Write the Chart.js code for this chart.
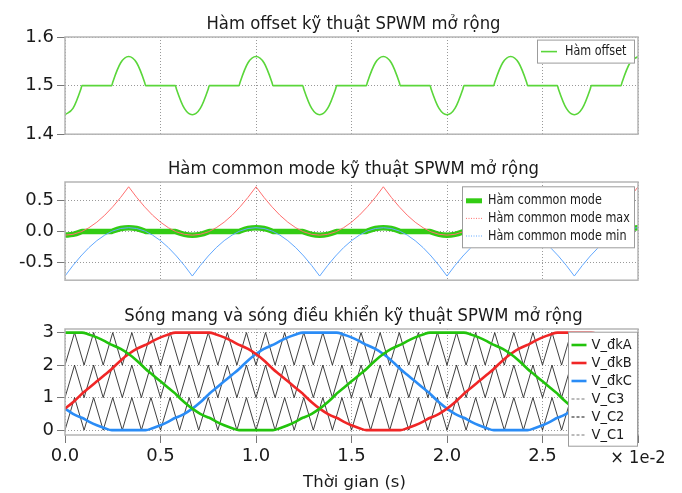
<!DOCTYPE html>
<html>
<head>
<meta charset="utf-8">
<script src="https://cdn.jsdelivr.net/npm/chart.js@4.4.0/dist/chart.umd.min.js"></script>
<style>
  body { margin: 0; background: #fff; }
  #wrap { position: relative; width: 682px; height: 493px; overflow: hidden; }
  canvas { position: absolute; left: 0; }
</style>
</head>
<body>
<div id="wrap">
  <canvas id="offsetChart" width="682" height="148" style="top:0px"></canvas>
  <canvas id="cmChart" width="682" height="146" style="top:148px"></canvas>
  <canvas id="pwmChart" width="682" height="199" style="top:294px"></canvas>
</div>
<script>
// time axis in units of 1e-2 s (extra points where the clamping switches)
var times = [
  0, 0.0417, 0.0833, 0.0886, 0.125, 0.1667, 0.2083, 0.2448, 0.25, 0.2917,
  0.3333, 0.375, 0.4167, 0.4219, 0.4583, 0.5, 0.5417, 0.5781, 0.5833, 0.625,
  0.6667, 0.7083, 0.75, 0.7553, 0.7917, 0.8333, 0.875, 0.9115, 0.9167, 0.9583,
  1.0, 1.0417, 1.0833, 1.0886, 1.125, 1.1667, 1.2083, 1.2448, 1.25, 1.2917,
  1.3333, 1.375, 1.4167, 1.4219, 1.4583, 1.5, 1.5417, 1.5781, 1.5833, 1.625,
  1.6667, 1.7083, 1.75, 1.7553, 1.7917, 1.8333, 1.875, 1.9115, 1.9167, 1.9583,
  2.0, 2.0417, 2.0833, 2.0886, 2.125, 2.1667, 2.2083, 2.2448, 2.25, 2.2917,
  2.3333, 2.375, 2.4167, 2.4219, 2.4583, 2.5, 2.5417, 2.5781, 2.5833, 2.625,
  2.6667, 2.7083, 2.75, 2.7553, 2.7917, 2.8333, 2.875, 2.9115, 2.9167, 2.9583,
  3.0
];

var offsetValues = [
  1.440, 1.453, 1.493, 1.5, 1.5, 1.5, 1.5, 1.5, 1.507, 1.547,
  1.560, 1.547, 1.507, 1.5, 1.5, 1.5, 1.5, 1.5, 1.493, 1.453,
  1.440, 1.453, 1.493, 1.5, 1.5, 1.5, 1.5, 1.5, 1.507, 1.547,
  1.560, 1.547, 1.507, 1.5, 1.5, 1.5, 1.5, 1.5, 1.493, 1.453,
  1.440, 1.453, 1.493, 1.5, 1.5, 1.5, 1.5, 1.5, 1.507, 1.547,
  1.560, 1.547, 1.507, 1.5, 1.5, 1.5, 1.5, 1.5, 1.493, 1.453,
  1.440, 1.453, 1.493, 1.5, 1.5, 1.5, 1.5, 1.5, 1.507, 1.547,
  1.560, 1.547, 1.507, 1.5, 1.5, 1.5, 1.5, 1.5, 1.493, 1.453,
  1.440, 1.453, 1.493, 1.5, 1.5, 1.5, 1.5, 1.5, 1.507, 1.547,
  1.560
];

var cmValues = [
  -0.060, -0.047, -0.007, 0, 0, 0, 0, 0, 0.007, 0.047,
  0.060, 0.047, 0.007, 0, 0, 0, 0, 0, -0.007, -0.047,
  -0.060, -0.047, -0.007, 0, 0, 0, 0, 0, 0.007, 0.047,
  0.060, 0.047, 0.007, 0, 0, 0, 0, 0, -0.007, -0.047,
  -0.060, -0.047, -0.007, 0, 0, 0, 0, 0, 0.007, 0.047,
  0.060, 0.047, 0.007, 0, 0, 0, 0, 0, -0.007, -0.047,
  -0.060, -0.047, -0.007, 0, 0, 0, 0, 0, 0.007, 0.047,
  0.060, 0.047, 0.007, 0, 0, 0, 0, 0, -0.007, -0.047,
  -0.060, -0.047, -0.007, 0, 0, 0, 0, 0, 0.007, 0.047,
  0.060
];

var cmMaxValues = [
  -0.060, -0.047, -0.007, 0, 0.059, 0.149, 0.262, 0.380, 0.397, 0.550,
  0.720, 0.550, 0.397, 0.380, 0.262, 0.149, 0.059, 0, -0.007, -0.047,
  -0.060, -0.047, -0.007, 0, 0.059, 0.149, 0.262, 0.380, 0.397, 0.550,
  0.720, 0.550, 0.397, 0.380, 0.262, 0.149, 0.059, 0, -0.007, -0.047,
  -0.060, -0.047, -0.007, 0, 0.059, 0.149, 0.262, 0.380, 0.397, 0.550,
  0.720, 0.550, 0.397, 0.380, 0.262, 0.149, 0.059, 0, -0.007, -0.047,
  -0.060, -0.047, -0.007, 0, 0.059, 0.149, 0.262, 0.380, 0.397, 0.550,
  0.720, 0.550, 0.397, 0.380, 0.262, 0.149, 0.059, 0, -0.007, -0.047,
  -0.060, -0.047, -0.007, 0, 0.059, 0.149, 0.262, 0.380, 0.397, 0.550,
  0.720
];

var cmMinValues = [
  -0.720, -0.550, -0.397, -0.380, -0.262, -0.149, -0.059, 0, 0.007, 0.047,
  0.060, 0.047, 0.007, 0, -0.059, -0.149, -0.262, -0.380, -0.397, -0.550,
  -0.720, -0.550, -0.397, -0.380, -0.262, -0.149, -0.059, 0, 0.007, 0.047,
  0.060, 0.047, 0.007, 0, -0.059, -0.149, -0.262, -0.380, -0.397, -0.550,
  -0.720, -0.550, -0.397, -0.380, -0.262, -0.149, -0.059, 0, 0.007, 0.047,
  0.060, 0.047, 0.007, 0, -0.059, -0.149, -0.262, -0.380, -0.397, -0.550,
  -0.720, -0.550, -0.397, -0.380, -0.262, -0.149, -0.059, 0, 0.007, 0.047,
  0.060, 0.047, 0.007, 0, -0.059, -0.149, -0.262, -0.380, -0.397, -0.550,
  -0.720, -0.550, -0.397, -0.380, -0.262, -0.149, -0.059, 0, 0.007, 0.047,
  0.060
];

// control signals, phases A, B, C
var vA = [
  3, 3, 3, 3, 2.941, 2.851, 2.738, 2.621, 2.61, 2.497,
  2.34, 2.144, 1.911, 1.879, 1.704, 1.5, 1.296, 1.121, 1.089, 0.856,
  0.66, 0.503, 0.39, 0.379, 0.262, 0.149, 0.059, 0, 0, 0,
  0, 0, 0, 0, 0.059, 0.149, 0.262, 0.379, 0.39, 0.503,
  0.66, 0.856, 1.089, 1.121, 1.296, 1.5, 1.704, 1.879, 1.911, 2.144,
  2.34, 2.497, 2.61, 2.621, 2.738, 2.851, 2.941, 3, 3, 3,
  3, 3, 3, 3, 2.941, 2.851, 2.738, 2.621, 2.61, 2.497,
  2.34, 2.144, 1.911, 1.879, 1.704, 1.5, 1.296, 1.121, 1.089, 0.856,
  0.66, 0.503, 0.39, 0.379, 0.262, 0.149, 0.059, 0, 0, 0,
  0
];
var vB = [
  0.66, 0.856, 1.089, 1.121, 1.296, 1.5, 1.704, 1.879, 1.911, 2.144,
  2.34, 2.497, 2.61, 2.621, 2.738, 2.851, 2.941, 3, 3, 3,
  3, 3, 3, 3, 2.941, 2.851, 2.738, 2.621, 2.61, 2.497,
  2.34, 2.144, 1.911, 1.879, 1.704, 1.5, 1.296, 1.121, 1.089, 0.856,
  0.66, 0.503, 0.39, 0.379, 0.262, 0.149, 0.059, 0, 0, 0,
  0, 0, 0, 0, 0.059, 0.149, 0.262, 0.379, 0.39, 0.503,
  0.66, 0.856, 1.089, 1.121, 1.296, 1.5, 1.704, 1.879, 1.911, 2.144,
  2.34, 2.497, 2.61, 2.621, 2.738, 2.851, 2.941, 3, 3, 3,
  3, 3, 3, 3, 2.941, 2.851, 2.738, 2.621, 2.61, 2.497,
  2.34
];
var vC = [
  0.66, 0.503, 0.39, 0.379, 0.262, 0.149, 0.059, 0, 0, 0,
  0, 0, 0, 0, 0.059, 0.149, 0.262, 0.379, 0.39, 0.503,
  0.66, 0.856, 1.089, 1.121, 1.296, 1.5, 1.704, 1.879, 1.911, 2.144,
  2.34, 2.497, 2.61, 2.621, 2.738, 2.851, 2.941, 3, 3, 3,
  3, 3, 3, 3, 2.941, 2.851, 2.738, 2.621, 2.61, 2.497,
  2.34, 2.144, 1.911, 1.879, 1.704, 1.5, 1.296, 1.121, 1.089, 0.856,
  0.66, 0.503, 0.39, 0.379, 0.262, 0.149, 0.059, 0, 0, 0,
  0, 0, 0, 0, 0.059, 0.149, 0.262, 0.379, 0.39, 0.503,
  0.66, 0.856, 1.089, 1.121, 1.296, 1.5, 1.704, 1.879, 1.911, 2.144,
  2.34
];

// triangular carriers, vertices every 0.05e-2 s
var carrierTimes = [
  0, 0.05, 0.1, 0.15, 0.2, 0.25, 0.3, 0.35, 0.4, 0.45, 0.5, 0.55, 0.6, 0.65, 0.7, 0.75, 0.8, 0.85, 0.9, 0.95,
  1.0, 1.05, 1.1, 1.15, 1.2, 1.25, 1.3, 1.35, 1.4, 1.45, 1.5, 1.55, 1.6, 1.65, 1.7, 1.75, 1.8, 1.85, 1.9, 1.95,
  2.0, 2.05, 2.1, 2.15, 2.2, 2.25, 2.3, 2.35, 2.4, 2.45, 2.5, 2.55, 2.6, 2.65, 2.7, 2.75, 2.8, 2.85, 2.9, 2.95,
  3.0
];
var carrier1 = [
  0, 1, 0, 1, 0, 1, 0, 1, 0, 1, 0, 1, 0, 1, 0, 1, 0, 1, 0, 1,
  0, 1, 0, 1, 0, 1, 0, 1, 0, 1, 0, 1, 0, 1, 0, 1, 0, 1, 0, 1,
  0, 1, 0, 1, 0, 1, 0, 1, 0, 1, 0, 1, 0, 1, 0, 1, 0, 1, 0, 1,
  0
];
var carrier2 = [
  1, 2, 1, 2, 1, 2, 1, 2, 1, 2, 1, 2, 1, 2, 1, 2, 1, 2, 1, 2,
  1, 2, 1, 2, 1, 2, 1, 2, 1, 2, 1, 2, 1, 2, 1, 2, 1, 2, 1, 2,
  1, 2, 1, 2, 1, 2, 1, 2, 1, 2, 1, 2, 1, 2, 1, 2, 1, 2, 1, 2,
  1
];
var carrier3 = [
  2, 3, 2, 3, 2, 3, 2, 3, 2, 3, 2, 3, 2, 3, 2, 3, 2, 3, 2, 3,
  2, 3, 2, 3, 2, 3, 2, 3, 2, 3, 2, 3, 2, 3, 2, 3, 2, 3, 2, 3,
  2, 3, 2, 3, 2, 3, 2, 3, 2, 3, 2, 3, 2, 3, 2, 3, 2, 3, 2, 3,
  2
];

var xTicks = [0, 0.5, 1.0, 1.5, 2.0, 2.5, 3.0];

var FONT = '"DejaVu Sans", sans-serif';
Chart.defaults.font.family = FONT;
Chart.defaults.color = '#1a1a1a';

function series(xs, ys) {
  return xs.map((x, i) => ({ x: x, y: ys[i] }));
}

function drawText(ctx, text, x, y, size, squeeze, align, base) {
  ctx.save();
  ctx.translate(x, y);
  ctx.scale(squeeze, 1);
  ctx.font = size + 'px ' + FONT;
  ctx.fillStyle = '#1a1a1a';
  ctx.textAlign = align;
  ctx.textBaseline = base;
  ctx.fillText(text, 0, 0);
  ctx.restore();
}

// frame, boxed legend inside the plot, title and axis captions
var panel = {
  id: 'panel',
  afterDatasetsDraw(chart, args, o) {
    const ctx = chart.ctx, a = chart.chartArea;
    ctx.save();
    ctx.strokeStyle = '#b5b5b5';
    ctx.lineWidth = 1.5;
    ctx.strokeRect(a.left, a.top, a.right - a.left, a.bottom - a.top);

    const lg = o.legend;
    const bx = a.right - lg.right - lg.w, by = a.top + lg.top;
    ctx.fillStyle = '#fff';
    ctx.fillRect(bx, by, lg.w, lg.h);
    ctx.strokeStyle = '#9c9c9c';
    ctx.lineWidth = 1;
    ctx.strokeRect(bx + 0.5, by + 0.5, lg.w - 1, lg.h - 1);
    chart.data.datasets.forEach((ds, i) => {
      const s = lg.samples[i] || {};
      const ry = by + lg.first + i * lg.row;
      ctx.beginPath();
      ctx.setLineDash(s.dash || []);
      ctx.strokeStyle = s.color || ds.borderColor;
      ctx.lineWidth = s.width || ds.borderWidth;
      ctx.moveTo(bx + lg.pad, ry);
      ctx.lineTo(bx + lg.pad + lg.len, ry);
      ctx.stroke();
      ctx.setLineDash([]);
      drawText(ctx, ds.label, bx + lg.textX, ry, lg.size, lg.squeeze, 'left', 'middle');
    });
    ctx.restore();
  },
  afterDraw(chart, args, o) {
    const ctx = chart.ctx, a = chart.chartArea;
    drawText(ctx, o.title, (a.left + a.right) / 2 + 2, a.top - 8, 17.5, 0.94, 'center', 'alphabetic');
    if (o.xLabel) {
      drawText(ctx, o.xLabel, (a.left + a.right) / 2 + 3, a.bottom + 52, 16.5, 1, 'center', 'alphabetic');
      drawText(ctx, '\u00d7 1e-2', a.right, a.bottom + 28, 17.5, 0.93, 'center', 'alphabetic');
    }
  }
};

function yAxis(min, max, step, digits) {
  return {
    type: 'linear',
    min: min,
    max: max,
    afterFit: s => { s.width = 65; },
    ticks: {
      stepSize: step,
      includeBounds: false,
      padding: 3,
      font: { size: 18 },
      color: '#1a1a1a',
      callback: v => v.toFixed(digits)
    },
    grid: { color: '#999', tickColor: '#777', tickLength: 8, tickBorderDash: [], lineWidth: 1 },
    border: { display: false, dash: [1, 2] }
  };
}

function xAxis(labelled) {
  return {
    type: 'linear',
    min: 0,
    max: 3,
    afterBuildTicks: s => { s.ticks = xTicks.map(v => ({ value: v })); },
    afterFit: s => { s.height = labelled ? 58 : 0; },
    ticks: {
      display: labelled,
      padding: 3,
      maxRotation: 0,
      font: { size: 18 },
      color: '#1a1a1a',
      callback: v => (v === 3 ? '' : v.toFixed(1))
    },
    grid: { color: '#999', drawTicks: labelled, tickColor: '#777', tickLength: 8, tickBorderDash: [], lineWidth: 1 },
    border: { display: false, dash: [1, 2] }
  };
}

function baseOptions(pad, yScale, labelled, panelOpts) {
  return {
    responsive: false,
    animation: false,
    devicePixelRatio: 1,
    events: [],
    layout: { padding: pad },
    elements: { point: { radius: 0 } },
    plugins: { legend: { display: false }, tooltip: { enabled: false }, panel: panelOpts },
    scales: { x: xAxis(labelled), y: yScale }
  };
}

new Chart(document.getElementById('offsetChart'), {
  type: 'line',
  data: {
    datasets: [{
      label: 'Hàm offset',
      data: series(times, offsetValues),
      borderColor: '#5ad63a',
      borderWidth: 1.6,
      cubicInterpolationMode: 'monotone'
    }]
  },
  options: baseOptions({ top: 37, bottom: 7, left: 0, right: 44 }, yAxis(1.4, 1.6, 0.1, 1), false, {
    title: 'Hàm offset kỹ thuật SPWM mở rộng',
    legend: { w: 98, h: 24, right: 3, top: 2.6, first: 12, row: 18, pad: 4, len: 16, textX: 28, size: 14, squeeze: 0.8,
      samples: [] }
  }),
  plugins: [panel]
});

new Chart(document.getElementById('cmChart'), {
  type: 'line',
  data: {
    datasets: [{
      label: 'Hàm common mode',
      data: series(times, cmValues),
      borderColor: '#33cc14',
      borderWidth: 5.5,
      cubicInterpolationMode: 'monotone',
      order: 1
    }, {
      label: 'Hàm common mode max',
      data: series(times, cmMaxValues),
      borderColor: '#ff6f6f',
      borderWidth: 1,
      order: 0
    }, {
      label: 'Hàm common mode min',
      data: series(times, cmMinValues),
      borderColor: '#62a8ff',
      borderWidth: 1,
      order: 0
    }]
  },
  options: baseOptions({ top: 34, bottom: 6, left: 0, right: 44 }, yAxis(-0.787, 0.797, 0.5, 1), false, {
    title: 'Hàm common mode kỹ thuật SPWM mở rộng',
    legend: { w: 173, h: 62, right: 3, top: 4.3, first: 14.5, row: 17.6, pad: 4, len: 16, textX: 26, size: 14, squeeze: 0.8,
      samples: [{ width: 5 }, { width: 1, dash: [1, 1.5] }, { width: 1, dash: [1, 1.5] }] }
  }),
  plugins: [panel]
});

new Chart(document.getElementById('pwmChart'), {
  type: 'line',
  data: {
    datasets: [
      { label: 'V_đkA', data: series(times, vA), borderColor: '#22c30c', borderWidth: 2.6, cubicInterpolationMode: 'monotone', order: 0 },
      { label: 'V_đkB', data: series(times, vB), borderColor: '#f02626', borderWidth: 2.6, cubicInterpolationMode: 'monotone', order: 0 },
      { label: 'V_đkC', data: series(times, vC), borderColor: '#2a8cf6', borderWidth: 2.6, cubicInterpolationMode: 'monotone', order: 0 },
      { label: 'V_C3', data: series(carrierTimes, carrier3), borderColor: '#2a2a2a', borderWidth: 0.9, order: 1 },
      { label: 'V_C2', data: series(carrierTimes, carrier2), borderColor: '#2a2a2a', borderWidth: 0.9, order: 1 },
      { label: 'V_C1', data: series(carrierTimes, carrier1), borderColor: '#2a2a2a', borderWidth: 0.9, order: 1 }
    ]
  },
  options: baseOptions({ top: 35, bottom: 0, left: 0, right: 44 }, yAxis(-0.15, 3.11, 1, 0), true, {
    title: 'Sóng mang và sóng điều khiển kỹ thuật SPWM mở rộng',
    xLabel: 'Thời gian (s)',
    legend: { w: 70, h: 115, right: 0, top: 2.7, first: 13.3, row: 18, pad: 3.5, len: 15, textX: 23.5, size: 14, squeeze: 0.93,
      samples: [{}, {}, {}, { color: '#777', dash: [3, 2], width: 1 }, { color: '#111', dash: [3, 2], width: 1 }, { color: '#777', dash: [3, 2], width: 1 }] }
  }),
  plugins: [panel]
});
</script>
</body>
</html>
